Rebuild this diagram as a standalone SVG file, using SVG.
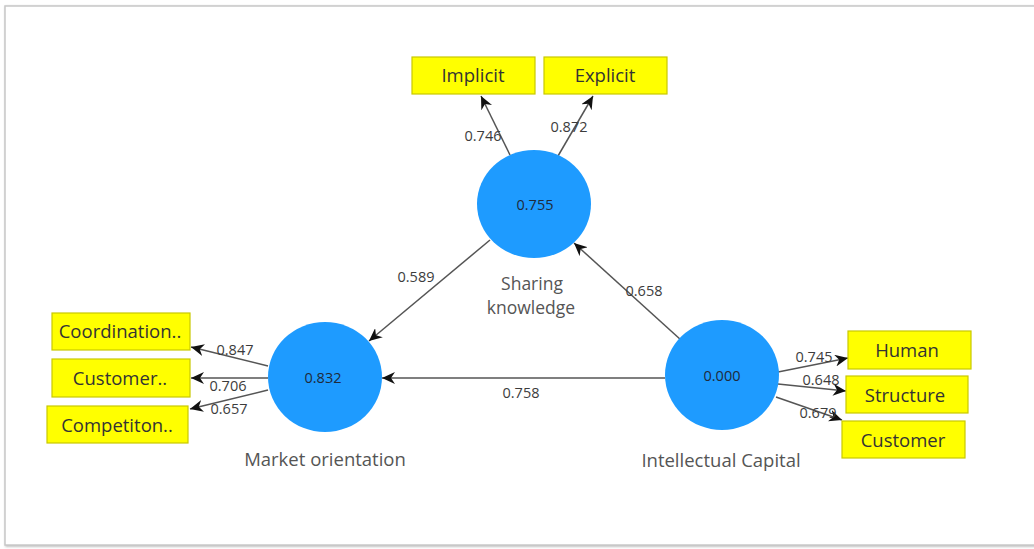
<svg xmlns="http://www.w3.org/2000/svg" width="1034" height="549" viewBox="0 0 1034 549">
<defs>
<marker id="ah" markerUnits="userSpaceOnUse" markerWidth="14" markerHeight="12" refX="13" refY="6" orient="auto">
<path d="M0,0 L13,6 L0,12 L4,6 Z" fill="#111"/>
</marker>
<filter id="sh" x="-5%" y="-5%" width="110%" height="110%">
<feDropShadow dx="1" dy="1" stdDeviation="1.2" flood-color="#888" flood-opacity="0.6"/>
</filter>
</defs>
<style>
.ind rect{fill:#ffff00;stroke:#c9c900;stroke-width:1.2}
.ind text{font-family:"Open Sans","Noto Sans",sans-serif;font-size:18.5px;fill:#333;text-anchor:middle}
.lv ellipse{fill:#1e9bff}
.lv text.v{font-family:"Open Sans","Noto Sans",sans-serif;font-size:14.5px;fill:#1f2a3a;text-anchor:middle}
.lv text.n{font-family:"Open Sans","Noto Sans",sans-serif;font-size:18.5px;fill:#555;text-anchor:middle}
.lv text.s{font-size:17.5px}
.c line{stroke:#555;stroke-width:1.5;marker-end:url(#ah)}
.c text{font-family:"Open Sans","Noto Sans",sans-serif;font-size:14.5px;fill:#3c3c3c;text-anchor:middle}
</style>
<rect x="0" y="0" width="1034" height="549" fill="#fff"/>
<rect x="5" y="6" width="1040" height="539" fill="#fff" stroke="#c8c8c8" stroke-width="1.5" filter="url(#sh)"/>

<g class="c" id="connectors">
<line x1="510" y1="155" x2="481" y2="96"/>
<line x1="558" y1="156" x2="593" y2="96"/>
<line x1="490" y1="240" x2="369" y2="341"/>
<line x1="681" y1="340" x2="574" y2="243"/>
<line x1="665" y1="378" x2="382" y2="378"/>
<line x1="268" y1="366" x2="191" y2="347"/>
<line x1="268" y1="378" x2="191" y2="378"/>
<line x1="268" y1="390" x2="190" y2="409"/>
<line x1="778" y1="372" x2="848" y2="358"/>
<line x1="778" y1="384" x2="846" y2="391"/>
<line x1="776" y1="397" x2="842" y2="420"/>
<text x="483" y="141">0.746</text>
<text x="569" y="132">0.872</text>
<text x="416" y="282">0.589</text>
<text x="644" y="296">0.658</text>
<text x="521" y="398">0.758</text>
<text x="235" y="355">0.847</text>
<text x="228" y="391">0.706</text>
<text x="229" y="414">0.657</text>
<text x="814" y="362">0.745</text>
<text x="821" y="385">0.648</text>
<text x="818" y="418">0.679</text>
</g>

<g class="lv" id="sharing-knowledge">
<ellipse cx="534" cy="204" rx="57" ry="54"/>
<text class="v" x="535" y="210">0.755</text>
<text class="n s" x="532" y="290">Sharing</text>
<text class="n s" x="531" y="314">knowledge</text>
</g>
<g class="lv" id="market-orientation">
<ellipse cx="325" cy="377" rx="57" ry="55"/>
<text class="v" x="323" y="383">0.832</text>
<text class="n" x="325" y="466">Market orientation</text>
</g>
<g class="lv" id="intellectual-capital">
<ellipse cx="722" cy="375" rx="57" ry="55"/>
<text class="v" x="722" y="381">0.000</text>
<text class="n" x="721" y="467">Intellectual Capital</text>
</g>

<g class="ind" id="implicit"><rect x="412" y="57" width="123" height="37"/><text x="473" y="82">Implicit</text></g>
<g class="ind" id="explicit"><rect x="544" y="57" width="123" height="37"/><text x="605" y="82">Explicit</text></g>
<g class="ind" id="coordination"><rect x="52" y="313" width="138" height="37"/><text x="120" y="338">Coordination..</text></g>
<g class="ind" id="customer-mo"><rect x="52" y="359" width="138" height="38"/><text x="120" y="385">Customer..</text></g>
<g class="ind" id="competiton"><rect x="47" y="406" width="141" height="37"/><text x="117" y="432">Competiton..</text></g>
<g class="ind" id="human"><rect x="848" y="331" width="123" height="38"/><text x="907" y="357">Human</text></g>
<g class="ind" id="structure"><rect x="846" y="376" width="122" height="37"/><text x="905" y="402">Structure</text></g>
<g class="ind" id="customer-ic"><rect x="842" y="421" width="123" height="37"/><text x="903" y="447">Customer</text></g>
</svg>
